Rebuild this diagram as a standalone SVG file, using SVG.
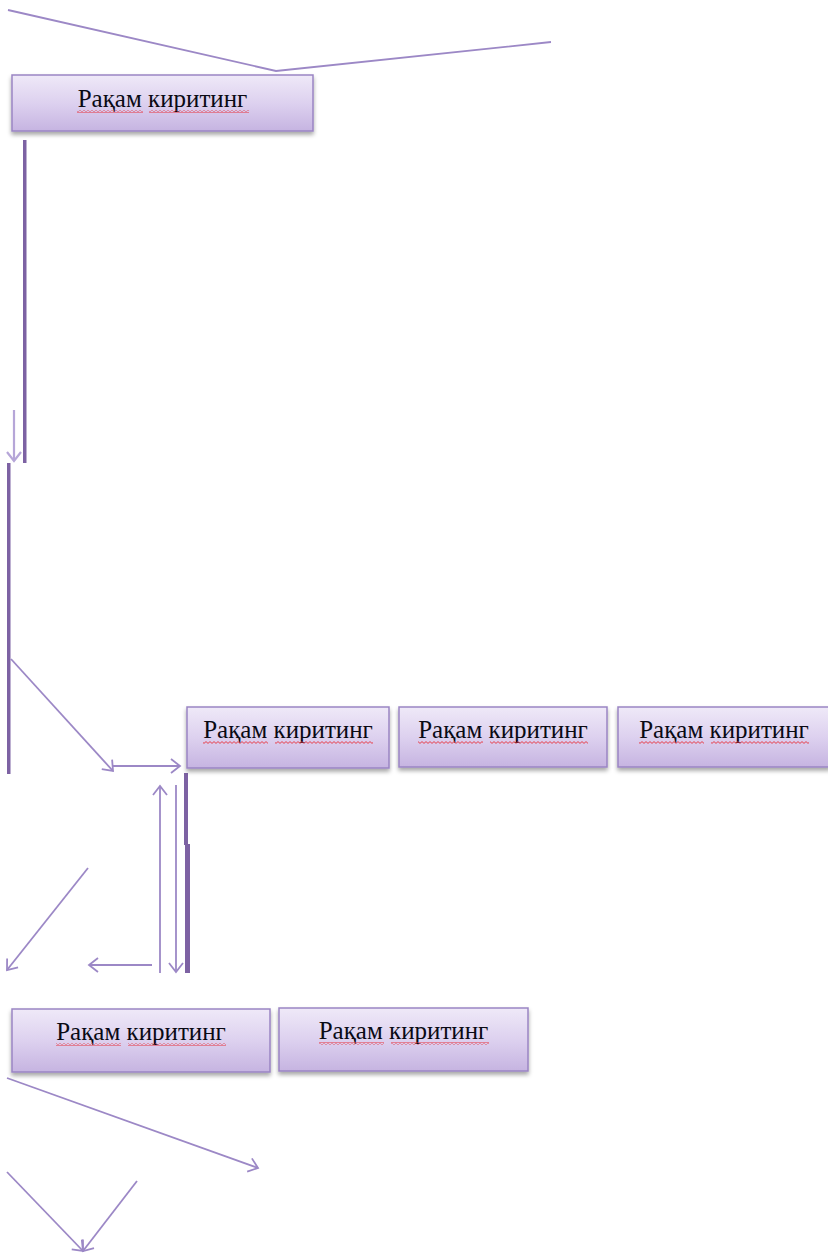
<svg xmlns="http://www.w3.org/2000/svg" width="828" height="1254" viewBox="0 0 828 1254">
<style>
.box{fill:url(#g);stroke:#9a85c3;stroke-width:1.5;filter:url(#sh)}
.lbl{font-family:"Liberation Serif","Times New Roman",serif;font-size:25px;fill:#0a0a14;text-anchor:middle}
.c{fill:none;stroke:#9c88c6;stroke-width:1.8}
.a{marker-end:url(#ah)}
.thick{fill:#7d62a3}
.sq{fill:url(#wave)}
</style>
<defs>
<linearGradient id="g" x1="0" y1="0" x2="0" y2="1">
<stop offset="0" stop-color="#efe9f8"/>
<stop offset="0.5" stop-color="#ddd1ef"/>
<stop offset="1" stop-color="#c6b4e1"/>
</linearGradient>
<filter id="sh" x="-5%" y="-20%" width="110%" height="150%">
<feDropShadow dx="0" dy="3" stdDeviation="2" flood-color="#000" flood-opacity="0.35"/>
</filter>
<pattern id="wave" width="4" height="3" patternUnits="userSpaceOnUse">
<path d="M0,2.4 L2,0.6 L4,2.4" fill="none" stroke="#e8303a" stroke-width="0.9"/>
</pattern>
<marker id="ah" markerUnits="userSpaceOnUse" markerWidth="20" markerHeight="20" refX="10" refY="10" orient="auto" viewBox="0 0 20 20">
<path d="M1,3 L10,10 L1,17" fill="none" stroke="#9c88c6" stroke-width="1.8"/>
</marker>
<marker id="ahl" markerUnits="userSpaceOnUse" markerWidth="20" markerHeight="20" refX="10" refY="10" orient="auto" viewBox="0 0 20 20">
<path d="M1,3 L10,10 L1,17" fill="none" stroke="#b6a6d8" stroke-width="2.2"/>
</marker>
</defs>
<g id="connectors">
<polyline class="c" points="8,10 276,71 551,42"/>
<line x1="14" y1="410" x2="14" y2="461" fill="none" stroke="#b6a6d8" stroke-width="2.2" marker-end="url(#ahl)"/>
<line class="c a" x1="11" y1="659" x2="113" y2="771"/>
<line class="c a" x1="113" y1="766" x2="180" y2="766"/>
<line class="c a" x1="160" y1="973" x2="160" y2="786"/>
<line class="c a" x1="176" y1="785" x2="176" y2="972"/>
<line class="c a" x1="152" y1="965" x2="89" y2="965"/>
<line class="c a" x1="88" y1="868" x2="7" y2="970"/>
<line class="c a" x1="7" y1="1078" x2="258" y2="1168"/>
<line class="c a" x1="7" y1="1172" x2="83" y2="1251"/>
<line class="c a" x1="137" y1="1181" x2="83" y2="1251"/>
<rect class="thick" x="23" y="140" width="3.5" height="323"/>
<rect class="thick" x="7" y="463" width="3.5" height="311"/>
<rect class="thick" x="184" y="773" width="4" height="72"/>
<rect class="thick" x="185" y="844" width="5" height="129"/>
</g>
<g id="n1">
<rect class="box" x="12" y="75" width="301" height="56"/>
<text class="lbl" x="162.5" y="107">Рақам киритинг</text>
<rect class="sq" x="77" y="110" width="66" height="3"/>
<rect class="sq" x="149" y="110" width="100" height="3"/>
</g>
<g id="n2">
<rect class="box" x="187" y="707" width="202" height="61"/>
<text class="lbl" x="288" y="738">Рақам киритинг</text>
<rect class="sq" x="203" y="741" width="65" height="3"/>
<rect class="sq" x="275" y="741" width="98" height="3"/>
</g>
<g id="n3">
<rect class="box" x="399" y="707" width="208" height="60"/>
<text class="lbl" x="503" y="738">Рақам киритинг</text>
<rect class="sq" x="418" y="741" width="65" height="3"/>
<rect class="sq" x="490" y="741" width="98" height="3"/>
</g>
<g id="n4">
<rect class="box" x="618" y="707" width="212" height="60"/>
<text class="lbl" x="724" y="738">Рақам киритинг</text>
<rect class="sq" x="639" y="741" width="65" height="3"/>
<rect class="sq" x="711" y="741" width="98" height="3"/>
</g>
<g id="n5">
<rect class="box" x="12" y="1009" width="258" height="63"/>
<text class="lbl" x="141" y="1040">Рақам киритинг</text>
<rect class="sq" x="56" y="1043" width="65" height="3"/>
<rect class="sq" x="128" y="1043" width="98" height="3"/>
</g>
<g id="n6">
<rect class="box" x="279" y="1008" width="249" height="63"/>
<text class="lbl" x="403.5" y="1039">Рақам киритинг</text>
<rect class="sq" x="319" y="1042" width="65" height="3"/>
<rect class="sq" x="391" y="1042" width="98" height="3"/>
</g>
</svg>
